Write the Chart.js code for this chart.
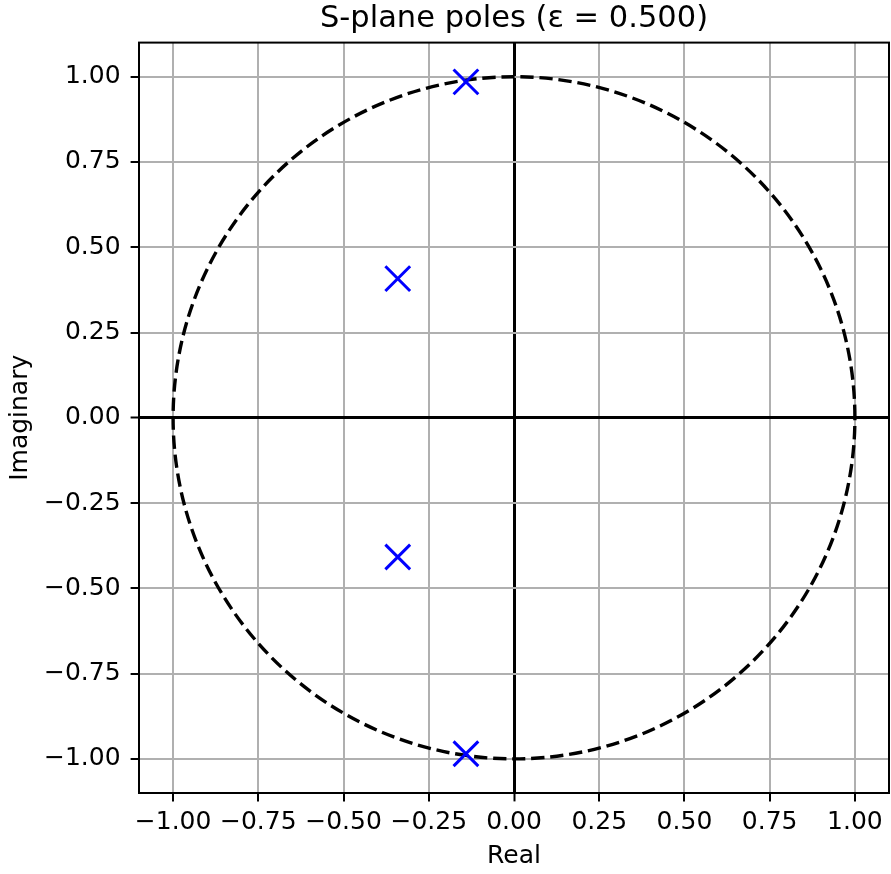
<!DOCTYPE html>
<html lang="en">
<head>
    <meta charset="UTF-8">
    <title>S-plane poles</title>
    <script src="https://cdn.jsdelivr.net/npm/chart.js"></script>
    <style>
        html, body { margin: 0; padding: 0; background: #ffffff; }
        .chart-box { width: 891px; height: 874px; position: relative; }
    </style>
</head>
<body>
    <div class="chart-box">
        <canvas id="poleChart"></canvas>
    </div>

    <script>
        // Pole locations (real, imaginary)
        const poleReal = [-0.141, -0.341, -0.341, -0.141];
        const poleImag = [0.985, 0.408, -0.408, -0.985];

        // Reference unit circle and axis setup
        const circleRadius = 1.0;
        const axisLimits = [-1.1, 1.1];
        const tickValues = [-1.0, -0.75, -0.5, -0.25, 0.0, 0.25, 0.5, 0.75, 1.0];

        const FONT = "'DejaVu Sans', sans-serif";

        function fmtTick(v) {
            return v.toFixed(2).replace('-', '\u2212');
        }

        // Dashed unit circle drawn through the scales
        const unitCircle = {
            id: 'unitCircle',
            beforeDatasetsDraw(chart) {
                const { ctx, scales: { x, y } } = chart;
                const cx = x.getPixelForValue(0);
                const cy = y.getPixelForValue(0);
                const rx = x.getPixelForValue(circleRadius) - cx;
                const ry = cy - y.getPixelForValue(circleRadius);
                ctx.save();
                ctx.beginPath();
                ctx.ellipse(cx, cy, rx, ry, 0, 0, Math.PI * 2, true);
                ctx.setLineDash([13.3, 5.8]);
                ctx.lineWidth = 3.4;
                ctx.strokeStyle = '#000000';
                ctx.stroke();
                ctx.restore();
            }
        };

        // Box around the plotting area
        const frame = {
            id: 'frame',
            afterDatasetsDraw(chart) {
                const { ctx, chartArea: a } = chart;
                ctx.save();
                ctx.lineWidth = 2;
                ctx.strokeStyle = '#000000';
                ctx.strokeRect(a.left, a.top, a.right - a.left, a.bottom - a.top);
                ctx.restore();
            }
        };

        function axisOptions(titleText, fixSize) {
            return {
                type: 'linear',
                min: axisLimits[0],
                max: axisLimits[1],
                afterBuildTicks: scale => {
                    scale.ticks = tickValues.map(v => ({ value: v }));
                },
                afterFit: scale => {
                    fixSize(scale);
                    scale.paddingLeft = 0;
                    scale.paddingRight = 0;
                    scale.paddingTop = 0;
                    scale.paddingBottom = 0;
                },
                border: { display: false },
                grid: {
                    color: c => (c.tick && c.tick.value === 0 ? '#000000' : '#b0b0b0'),
                    lineWidth: c => (c.tick && c.tick.value === 0 ? 3 : 2),
                    tickColor: '#000000',
                    tickWidth: 2,
                    tickLength: 8.4
                },
                ticks: {
                    autoSkip: false,
                    maxRotation: 0,
                    color: '#000000',
                    font: { family: FONT, size: 25 },
                    callback: v => fmtTick(v)
                },
                title: {
                    display: true,
                    text: titleText,
                    color: '#000000',
                    font: { family: FONT, size: 25 }
                }
            };
        }

        const xAxis = axisOptions('Real', scale => { scale.height = 81; });
        xAxis.ticks.padding = 6;
        xAxis.title.padding = { top: 0, bottom: 3 };

        const yAxis = axisOptions('Imaginary', scale => { scale.width = 139; });
        yAxis.ticks.padding = 10;
        yAxis.title.padding = { top: 5, bottom: 0 };

        const ctx = document.getElementById('poleChart').getContext('2d');
        new Chart(ctx, {
            type: 'scatter',
            data: {
                datasets: [{
                    label: 'Poles',
                    data: poleReal.map((re, i) => ({ x: re, y: poleImag[i] })),
                    pointStyle: 'crossRot',
                    pointRadius: 17.5,
                    pointHoverRadius: 17.5,
                    pointBorderWidth: 3,
                    pointHoverBorderWidth: 3,
                    borderColor: '#0000ff',
                    backgroundColor: '#0000ff',
                    showLine: false
                }]
            },
            options: {
                responsive: true,
                maintainAspectRatio: false,
                animation: false,
                events: [],
                layout: {
                    autoPadding: false,
                    padding: { top: 0, right: 2, bottom: 0, left: 0 }
                },
                plugins: {
                    legend: { display: false },
                    tooltip: { enabled: false },
                    title: {
                        display: true,
                        fullSize: false,
                        text: 'S-plane poles (\u03b5 = 0.500)',
                        color: '#000000',
                        font: { family: FONT, size: 30.5, weight: 'normal' },
                        padding: { top: 1, bottom: 5 }
                    }
                },
                scales: {
                    x: xAxis,
                    y: yAxis
                }
            },
            plugins: [unitCircle, frame]
        });
    </script>
</body>
</html>
